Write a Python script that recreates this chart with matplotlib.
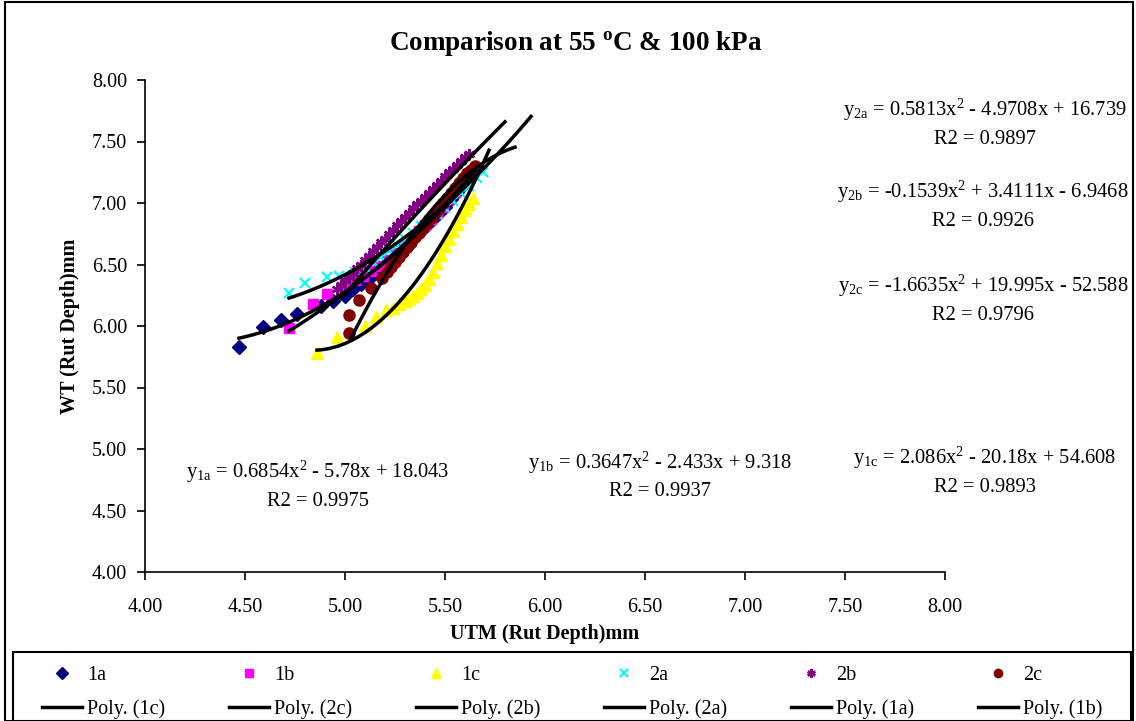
import matplotlib
matplotlib.use("Agg")
import matplotlib.pyplot as plt
import numpy as np
from matplotlib.ticker import FormatStrFormatter, MultipleLocator
from matplotlib.patches import Rectangle

plt.rcParams['font.family'] = ['Liberation Serif', 'DejaVu Serif']
plt.rcParams['mathtext.fontset'] = 'custom'
plt.rcParams['mathtext.rm'] = 'Liberation Serif'
plt.rcParams['mathtext.it'] = 'Liberation Serif:italic'
plt.rcParams['mathtext.bf'] = 'Liberation Serif:bold'

# measured data (UTM rut depth, WT rut depth), mm
x_1a = [4.47, 4.59, 4.68, 4.76, 4.88, 4.94, 5.00, 5.04, 5.08, 5.12, 5.16, 5.20,
        5.24, 5.28, 5.32, 5.35, 5.38, 5.41, 5.44, 5.47, 5.50, 5.53, 5.56, 5.59]
y_1a = [5.83, 5.99, 6.05, 6.10, 6.16, 6.20, 6.24, 6.30, 6.34, 6.38, 6.43, 6.48,
        6.54, 6.60, 6.66, 6.72, 6.77, 6.82, 6.87, 6.92, 6.97, 7.03, 7.09, 7.15]

x_1b = [4.72, 4.84, 4.91, 5.00, 5.05, 5.09, 5.13, 5.17, 5.21, 5.25, 5.29,
        5.33, 5.37, 5.40, 5.43, 5.46, 5.49, 5.52, 5.55, 5.58, 5.61]
y_1b = [5.98, 6.18, 6.26, 6.34, 6.37, 6.41, 6.45, 6.49, 6.54, 6.59, 6.65,
        6.71, 6.77, 6.82, 6.87, 6.92, 6.97, 7.03, 7.09, 7.16, 7.23]

x_1c = [4.86, 4.96, 5.02, 5.10, 5.155, 5.205, 5.24, 5.27, 5.30, 5.32, 5.34,
        5.36, 5.38, 5.40, 5.42, 5.44, 5.46, 5.48, 5.50, 5.52, 5.54, 5.56,
        5.58, 5.60, 5.62, 5.64]
y_1c = [5.78, 5.91, 5.95, 6.00, 6.07, 6.13, 6.15, 6.18, 6.20, 6.22, 6.24,
        6.27, 6.30, 6.33, 6.38, 6.44, 6.51, 6.58, 6.65, 6.71, 6.77, 6.83,
        6.89, 6.94, 6.99, 7.04]

x_2a = [4.72, 4.80, 4.91, 4.97, 5.05, 5.10, 5.14, 5.18, 5.22, 5.26, 5.30,
        5.34, 5.38, 5.42, 5.46, 5.50, 5.54, 5.58, 5.62, 5.66, 5.69]
y_2a = [6.27, 6.35, 6.40, 6.41, 6.44, 6.48, 6.52, 6.56, 6.61, 6.66, 6.71,
        6.76, 6.81, 6.86, 6.91, 6.96, 7.02, 7.08, 7.14, 7.20, 7.25]

x_2b = [4.96, 4.98, 5.00, 5.02, 5.04, 5.06, 5.08, 5.10, 5.12, 5.14, 5.16,
        5.18, 5.20, 5.22, 5.24, 5.26, 5.28, 5.30, 5.32, 5.34, 5.36, 5.38,
        5.40, 5.42, 5.44, 5.46, 5.48, 5.50, 5.52, 5.54, 5.56, 5.58, 5.60, 5.62]
y_2b = [6.30, 6.33, 6.37, 6.40, 6.43, 6.47, 6.50, 6.54, 6.57, 6.61, 6.64,
        6.68, 6.71, 6.75, 6.78, 6.82, 6.85, 6.89, 6.92, 6.96, 6.99, 7.02,
        7.05, 7.08, 7.11, 7.15, 7.18, 7.22, 7.25, 7.28, 7.31, 7.34, 7.37, 7.40]

x_2c = [5.02, 5.02, 5.07, 5.13, 5.185, 5.21, 5.23, 5.25, 5.27, 5.29, 5.31,
        5.33, 5.35, 5.37, 5.39, 5.41, 5.43, 5.45, 5.47, 5.49, 5.51, 5.53,
        5.55, 5.57, 5.59, 5.61, 5.63, 5.65]
y_2c = [5.94, 6.09, 6.21, 6.31, 6.39, 6.44, 6.48, 6.52, 6.56, 6.60, 6.64,
        6.68, 6.72, 6.76, 6.80, 6.84, 6.88, 6.92, 6.96, 7.00, 7.04, 7.08,
        7.12, 7.16, 7.20, 7.24, 7.27, 7.30]

# 2nd order trendlines as printed on the chart
coef_1a = [0.6854, -5.78, 18.043]
coef_1b = [0.3647, -2.433, 9.318]
coef_1c = [2.086, -20.18, 54.608]
coef_2a = [0.5813, -4.9708, 16.739]
coef_2b = [-0.1539, 3.4111, -6.9468]
coef_2c = [-1.6635, 19.995, -52.588]
r2 = {'1a': '0.9975', '1b': '0.9937', '1c': '0.9893',
      '2a': '0.9897', '2b': '0.9926', '2c': '0.9796'}
# x span of each trendline
span_1a = [4.47, 5.65]
span_1b = [4.72, 5.65]
span_1c = [4.86, 5.72]
span_2a = [4.72, 5.93]
span_2b = [4.98, 5.80]
span_2c = [5.03, 5.85]

W, H = 1136, 721
fig = plt.figure(figsize=(W / 100, H / 100), dpi=100)


def px(x, y):
    return x / W, 1 - y / H


ax = fig.add_axes([145 / W, 1 - 572 / H, (945 - 145) / W, (572 - 80) / H])

series = [
    ('1a', x_1a, y_1a, dict(marker='D', color='#000080', ms=7.5)),
    ('1b', x_1b, y_1b, dict(marker='s', color='#FF00FF', ms=7.5)),
    ('1c', x_1c, y_1c, dict(marker='^', color='#FFFF00', ms=9)),
    ('2a', x_2a, y_2a, dict(marker='x', color='#00FFFF', ms=7, mew=1.6)),
    ('2b', x_2b, y_2b, dict(marker=(6, 2, 0), color='#800080', ms=8, mew=1.8)),
    ('2c', x_2c, y_2c, dict(marker='o', color='#800000', ms=8)),
]
handles = {}
for name, xs, ys, kw in series:
    h, = ax.plot(xs, ys, linestyle='none', markeredgecolor=kw['color'],
                 label=name, **kw)
    handles[name] = h

trends = [('1c', coef_1c, span_1c), ('2c', coef_2c, span_2c),
          ('2b', coef_2b, span_2b), ('2a', coef_2a, span_2a),
          ('1a', coef_1a, span_1a), ('1b', coef_1b, span_1b)]
for name, c, sp in trends:
    xx = np.linspace(sp[0], sp[1], 100)
    h, = ax.plot(xx, np.polyval(c, xx), color='black', lw=2.5, zorder=5,
                 label='Poly. (%s)' % name)
    handles['p' + name] = h

ax.set_xlim(4, 8)
ax.set_ylim(4, 8)
ax.xaxis.set_major_locator(MultipleLocator(0.5))
ax.yaxis.set_major_locator(MultipleLocator(0.5))
ax.xaxis.set_major_formatter(FormatStrFormatter('%.2f'))
ax.yaxis.set_major_formatter(FormatStrFormatter('%.2f'))
ax.tick_params(direction='out', length=6, width=1.2, labelsize=14.5)
ax.tick_params(axis='x', pad=13)
ax.tick_params(axis='y', pad=7)
ax.spines['top'].set_visible(False)
ax.spines['right'].set_visible(False)
for s in ('left', 'bottom'):
    ax.spines[s].set_linewidth(1.2)

fig.text(*px(576, 43), 'Comparison at 55 $^{\\mathbf{o}}$C & 100 kPa',
         ha='center', va='center', fontsize=19.5, fontweight='bold')
fig.text(*px(70, 326), 'WT (Rut Depth)mm', ha='center', va='center',
         rotation=90, fontsize=14.5, fontweight='bold')
fig.text(*px(545, 634), 'UTM (Rut Depth)mm', ha='center', va='center',
         fontsize=14.5, fontweight='bold')

eq_pos = {'2a': (985, 110), '2b': (983, 192), '2c': (983, 286),
          '1a': (318, 472), '1b': (660, 463), '1c': (985, 458)}
coefs = {'1a': '0.6854x$^{\\mathrm{2}}$ - 5.78x + 18.043',
         '1b': '0.3647x$^{\\mathrm{2}}$ - 2.433x + 9.318',
         '1c': '2.086x$^{\\mathrm{2}}$ - 20.18x + 54.608',
         '2a': '0.5813x$^{\\mathrm{2}}$ - 4.9708x + 16.739',
         '2b': '-0.1539x$^{\\mathrm{2}}$ + 3.4111x - 6.9468',
         '2c': '-1.6635x$^{\\mathrm{2}}$ + 19.995x - 52.588'}
for k, (ex, ey) in eq_pos.items():
    fig.text(*px(ex, ey), 'y$_{\\mathrm{%s}}$ = %s' % (k, coefs[k]),
             ha='center', va='center', fontsize=14.8)
    fig.text(*px(ex, ey + 29), 'R2 = %s' % r2[k],
             ha='center', va='center', fontsize=14.8)

order = ['1a', 'p1c', '1b', 'p2c', '1c', 'p2b', '2a', 'p2a', '2b', 'p1a', '2c', 'p1b']
leg = fig.legend([handles[k] for k in order],
                 [handles[k].get_label() for k in order],
                 ncol=6, loc='upper left', bbox_to_anchor=px(35, 659),
                 bbox_transform=fig.transFigure, borderaxespad=0,
                 fontsize=14.5, frameon=False,
                 handlelength=2.0, handletextpad=0.25,
                 columnspacing=3.15, labelspacing=0.72, borderpad=0.35,
                 numpoints=1, markerscale=0.75)

# legend box and chart border
fig.patches.append(Rectangle((13 / W, -0.02), (1131 - 13) / W, 0.02 + 1 - 652 / H,
                             transform=fig.transFigure, fill=False,
                             edgecolor='black', lw=1.5))
fig.patches.append(Rectangle((5 / W, 0), (1133 - 5) / W, 1 - 2 / H,
                             transform=fig.transFigure, fill=False,
                             edgecolor='black', lw=1.5))

fig.savefig('out.png', dpi=100)
